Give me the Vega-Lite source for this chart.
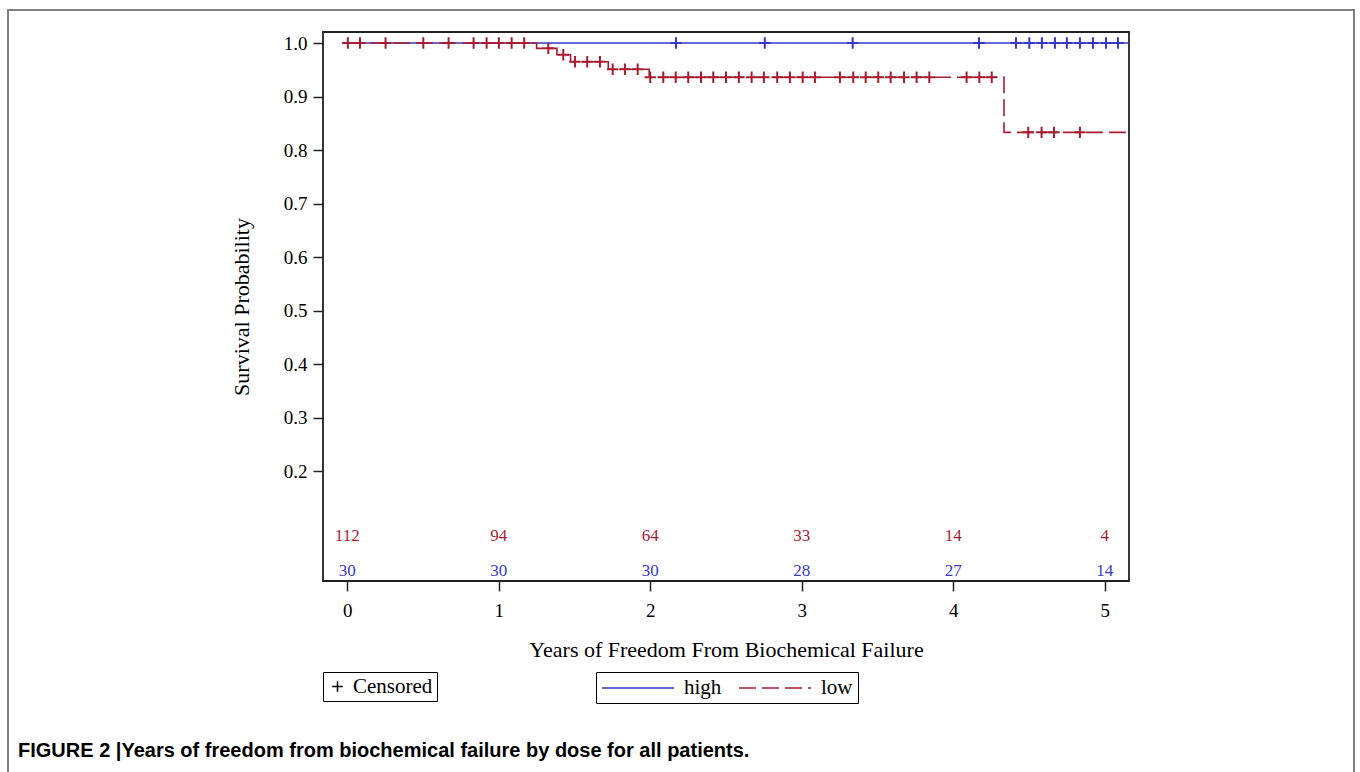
{
  "$schema": "https://vega.github.io/schema/vega-lite/v6.json",
  "width": 806,
  "height": 549,
  "autosize": "none",
  "padding": {"left": 323, "top": 32, "right": 231, "bottom": 191},
  "background": "white",
  "title": {
    "text": "FIGURE 2 |Years of freedom from biochemical failure by dose for all patients.",
    "orient": "bottom",
    "anchor": "start",
    "frame": "bounds",
    "baseline": "top",
    "offset": -36,
    "dx": 11,
    "font": "Liberation Sans",
    "fontSize": 20,
    "fontWeight": "bold",
    "color": "black"
  },
  "config": {
    "view": {"stroke": "#222222", "strokeWidth": 1.8},
    "axis": {
      "domain": false,
      "grid": false,
      "labelFont": "Liberation Serif",
      "labelFontSize": 19,
      "labelColor": "black",
      "tickColor": "#222222",
      "tickSize": 10,
      "tickWidth": 1.5,
      "titleFont": "Liberation Serif",
      "titleFontSize": 22,
      "titleFontWeight": "normal",
      "titleColor": "black"
    }
  },
  "datasets": {
    "curves": [
      {"group": "high", "time": 0, "surv": 1.0},
      {"group": "high", "time": 5.16, "surv": 1.0},
      {"group": "low", "time": 0, "surv": 1.0},
      {"group": "low", "time": 1.25, "surv": 0.990},
      {"group": "low", "time": 1.384, "surv": 0.978},
      {"group": "low", "time": 1.474, "surv": 0.965},
      {"group": "low", "time": 1.723, "surv": 0.951},
      {"group": "low", "time": 1.993, "surv": 0.936},
      {"group": "low", "time": 4.335, "surv": 0.833},
      {"group": "low", "time": 5.16, "surv": 0.833}
    ],
    "censor": [
      {"group": "high", "time": 2.17, "surv": 1.0, "status": "Censored"},
      {"group": "high", "time": 2.756, "surv": 1.0, "status": "Censored"},
      {"group": "high", "time": 3.336, "surv": 1.0, "status": "Censored"},
      {"group": "high", "time": 4.17, "surv": 1.0, "status": "Censored"},
      {"group": "high", "time": 4.414, "surv": 1.0, "status": "Censored"},
      {"group": "high", "time": 4.502, "surv": 1.0, "status": "Censored"},
      {"group": "high", "time": 4.585, "surv": 1.0, "status": "Censored"},
      {"group": "high", "time": 4.671, "surv": 1.0, "status": "Censored"},
      {"group": "high", "time": 4.75, "surv": 1.0, "status": "Censored"},
      {"group": "high", "time": 4.836, "surv": 1.0, "status": "Censored"},
      {"group": "high", "time": 4.922, "surv": 1.0, "status": "Censored"},
      {"group": "high", "time": 5.008, "surv": 1.0, "status": "Censored"},
      {"group": "high", "time": 5.087, "surv": 1.0, "status": "Censored"},
      {"group": "low", "time": 0.004, "surv": 1.0, "status": "Censored"},
      {"group": "low", "time": 0.084, "surv": 1.0, "status": "Censored"},
      {"group": "low", "time": 0.253, "surv": 1.0, "status": "Censored"},
      {"group": "low", "time": 0.502, "surv": 1.0, "status": "Censored"},
      {"group": "low", "time": 0.669, "surv": 1.0, "status": "Censored"},
      {"group": "low", "time": 0.834, "surv": 1.0, "status": "Censored"},
      {"group": "low", "time": 0.92, "surv": 1.0, "status": "Censored"},
      {"group": "low", "time": 1.001, "surv": 1.0, "status": "Censored"},
      {"group": "low", "time": 1.085, "surv": 1.0, "status": "Censored"},
      {"group": "low", "time": 1.168, "surv": 1.0, "status": "Censored"},
      {"group": "low", "time": 1.327, "surv": 0.990, "status": "Censored"},
      {"group": "low", "time": 1.426, "surv": 0.978, "status": "Censored"},
      {"group": "low", "time": 1.503, "surv": 0.965, "status": "Censored"},
      {"group": "low", "time": 1.584, "surv": 0.965, "status": "Censored"},
      {"group": "low", "time": 1.668, "surv": 0.965, "status": "Censored"},
      {"group": "low", "time": 1.752, "surv": 0.951, "status": "Censored"},
      {"group": "low", "time": 1.833, "surv": 0.951, "status": "Censored"},
      {"group": "low", "time": 1.917, "surv": 0.951, "status": "Censored"},
      {"group": "low", "time": 2.0, "surv": 0.936, "status": "Censored"},
      {"group": "low", "time": 2.086, "surv": 0.936, "status": "Censored"},
      {"group": "low", "time": 2.168, "surv": 0.936, "status": "Censored"},
      {"group": "low", "time": 2.251, "surv": 0.936, "status": "Censored"},
      {"group": "low", "time": 2.335, "surv": 0.936, "status": "Censored"},
      {"group": "low", "time": 2.416, "surv": 0.936, "status": "Censored"},
      {"group": "low", "time": 2.5, "surv": 0.936, "status": "Censored"},
      {"group": "low", "time": 2.585, "surv": 0.936, "status": "Censored"},
      {"group": "low", "time": 2.669, "surv": 0.936, "status": "Censored"},
      {"group": "low", "time": 2.75, "surv": 0.936, "status": "Censored"},
      {"group": "low", "time": 2.838, "surv": 0.936, "status": "Censored"},
      {"group": "low", "time": 2.922, "surv": 0.936, "status": "Censored"},
      {"group": "low", "time": 3.006, "surv": 0.936, "status": "Censored"},
      {"group": "low", "time": 3.087, "surv": 0.936, "status": "Censored"},
      {"group": "low", "time": 3.252, "surv": 0.936, "status": "Censored"},
      {"group": "low", "time": 3.34, "surv": 0.936, "status": "Censored"},
      {"group": "low", "time": 3.422, "surv": 0.936, "status": "Censored"},
      {"group": "low", "time": 3.505, "surv": 0.936, "status": "Censored"},
      {"group": "low", "time": 3.587, "surv": 0.936, "status": "Censored"},
      {"group": "low", "time": 3.675, "surv": 0.936, "status": "Censored"},
      {"group": "low", "time": 3.758, "surv": 0.936, "status": "Censored"},
      {"group": "low", "time": 3.842, "surv": 0.936, "status": "Censored"},
      {"group": "low", "time": 4.088, "surv": 0.936, "status": "Censored"},
      {"group": "low", "time": 4.172, "surv": 0.936, "status": "Censored"},
      {"group": "low", "time": 4.254, "surv": 0.936, "status": "Censored"},
      {"group": "low", "time": 4.495, "surv": 0.833, "status": "Censored"},
      {"group": "low", "time": 4.583, "surv": 0.833, "status": "Censored"},
      {"group": "low", "time": 4.665, "surv": 0.833, "status": "Censored"},
      {"group": "low", "time": 4.836, "surv": 0.833, "status": "Censored"}
    ],
    "risk": [
      {"group": "low", "time": 0, "n": 112},
      {"group": "low", "time": 1, "n": 94},
      {"group": "low", "time": 2, "n": 64},
      {"group": "low", "time": 3, "n": 33},
      {"group": "low", "time": 4, "n": 14},
      {"group": "low", "time": 5, "n": 4},
      {"group": "high", "time": 0, "n": 30},
      {"group": "high", "time": 1, "n": 30},
      {"group": "high", "time": 2, "n": 30},
      {"group": "high", "time": 3, "n": 28},
      {"group": "high", "time": 4, "n": 27},
      {"group": "high", "time": 5, "n": 14}
    ],
    "frame": [{"frame": "border"}]
  },
  "layer": [
    {
      "data": {"name": "frame"},
      "mark": {"type": "rect", "fill": null, "filled": false, "stroke": "#808080", "strokeWidth": 2},
      "encoding": {
        "x": {"datum": -2.239, "type": "quantitative", "scale": {"domain": [-0.16, 5.16]}, "title": "Years of Freedom From Biochemical Failure"},
        "x2": {"datum": 6.645},
        "y": {"datum": 1.0617, "type": "quantitative", "scale": {"domain": [-0.0056, 1.0206]}, "title": "Survival Probability"},
        "y2": {"datum": -0.37}
      }
    },
    {
      "data": {"name": "curves"},
      "mark": {"type": "line", "interpolate": "step-after", "strokeWidth": 1.6},
      "encoding": {
        "x": {"field": "time", "type": "quantitative", "scale": {"domain": [-0.16, 5.16], "nice": false, "zero": false},
          "axis": {"values": [0, 1, 2, 3, 4, 5], "format": "d", "labelPadding": 10, "titlePadding": 19},
          "title": "Years of Freedom From Biochemical Failure"},
        "y": {"field": "surv", "type": "quantitative", "scale": {"domain": [-0.0056, 1.0206], "nice": false, "zero": false},
          "axis": {"values": [0.2, 0.3, 0.4, 0.5, 0.6, 0.7, 0.8, 0.9, 1.0], "format": ".1f", "labelPadding": 6, "titlePadding": 30},
          "title": "Survival Probability"},
        "color": {"field": "group", "type": "nominal",
          "scale": {"domain": ["high", "low"], "range": ["#3838c8", "#a81c32"]},
          "legend": {"title": null, "orient": "none", "legendX": 273, "legendY": 640, "direction": "horizontal",
            "strokeColor": "black", "fillColor": "white", "padding": 5, "symbolType": "M-1,0H6.2", "symbolSize": 400,
            "symbolStrokeWidth": 1.5, "labelFont": "Liberation Serif", "labelFontSize": 21, "labelColor": "black",
            "columnPadding": 14, "labelOffset": 61}},
        "strokeDash": {"field": "group", "type": "nominal",
          "scale": {"domain": ["high", "low"], "range": [[1, 0], [17, 6]]},
          "legend": {"title": null, "orient": "none", "legendX": 273, "legendY": 640, "direction": "horizontal",
            "strokeColor": "black", "fillColor": "white", "padding": 5, "symbolType": "M-1,0H6.2", "symbolSize": 400,
            "symbolStrokeWidth": 1.5, "labelFont": "Liberation Serif", "labelFontSize": 21, "labelColor": "black",
            "columnPadding": 14, "labelOffset": 61}}
      }
    },
    {
      "data": {"name": "censor"},
      "mark": {"type": "point", "filled": false, "size": 130, "strokeWidth": 2, "opacity": 1},
      "encoding": {
        "x": {"field": "time", "type": "quantitative", "title": "Years of Freedom From Biochemical Failure"},
        "y": {"field": "surv", "type": "quantitative", "title": "Survival Probability"},
        "color": {"field": "group", "type": "nominal", "legend": null},
        "shape": {"field": "status", "type": "nominal",
          "scale": {"domain": ["Censored"], "range": ["M-1,0H1M0,-1V1"]},
          "legend": {"title": null, "orient": "none", "legendX": 0, "legendY": 640,
            "strokeColor": "black", "fillColor": "white", "padding": 4, "symbolSize": 110,
            "symbolStrokeColor": "black", "symbolFillColor": "transparent", "symbolStrokeWidth": 1.5,
            "labelFont": "Liberation Serif", "labelFontSize": 21, "labelColor": "black", "labelOffset": 5}}
      }
    },
    {
      "data": {"name": "risk"},
      "transform": [{"filter": "datum.group === 'low'"}],
      "mark": {"type": "text", "font": "Liberation Serif", "fontSize": 17, "color": "#a81c32", "baseline": "middle", "align": "center"},
      "encoding": {
        "x": {"field": "time", "type": "quantitative", "title": "Years of Freedom From Biochemical Failure"},
        "y": {"datum": 0.0786, "type": "quantitative", "title": "Survival Probability"},
        "text": {"field": "n", "type": "quantitative"}
      }
    },
    {
      "data": {"name": "risk"},
      "transform": [{"filter": "datum.group === 'high'"}],
      "mark": {"type": "text", "font": "Liberation Serif", "fontSize": 17, "color": "#3838c8", "baseline": "middle", "align": "center"},
      "encoding": {
        "x": {"field": "time", "type": "quantitative", "title": "Years of Freedom From Biochemical Failure"},
        "y": {"datum": 0.0131, "type": "quantitative", "title": "Survival Probability"},
        "text": {"field": "n", "type": "quantitative"}
      }
    }
  ]
}
